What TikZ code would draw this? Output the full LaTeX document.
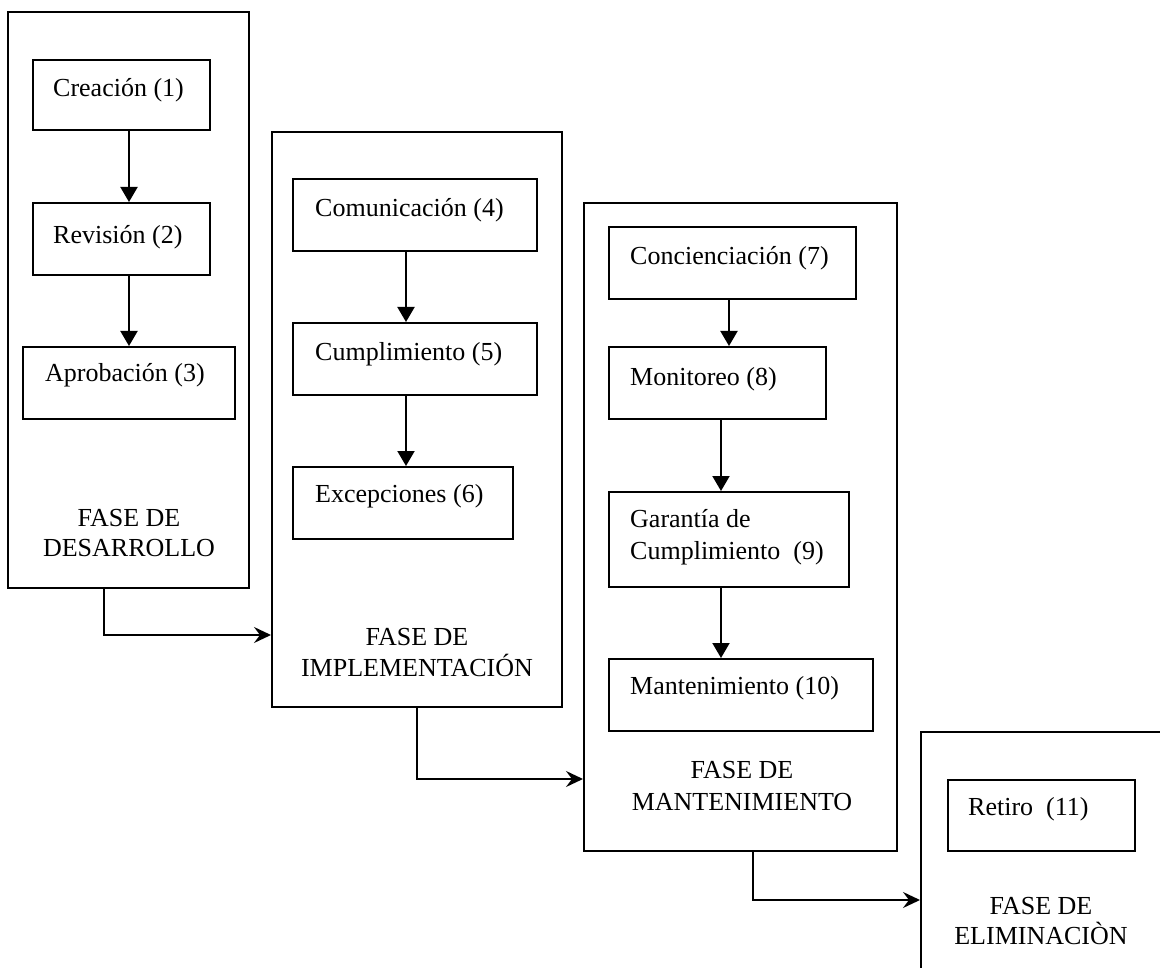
\documentclass[tikz,border=0pt]{standalone}
\usepackage{fontspec}
\setmainfont{Liberation Serif}
\usetikzlibrary{arrows.meta}

\begin{document}
\begin{tikzpicture}[x=1pt,y=-1pt,
  phasebox/.style={draw, line width=2pt, rectangle, inner sep=0pt},
  stepbox/.style={draw, line width=2pt, rectangle, inner sep=0pt},
  txt/.style={inner sep=0pt, font=\fontsize{26}{31}\selectfont},
  phaselbl/.style={txt, anchor=base},
  steptxt/.style={txt, anchor=base west},
  flow/.style={line width=2pt, -{Triangle[length=15pt,width=17pt]}},
  elbow/.style={line width=2pt, -{Stealth[length=17pt,width=16pt,inset=6pt]}}]

\useasboundingbox (0,0) rectangle (1160,968);
\clip (0,0) rectangle (1160,968);

% ---- Fase de desarrollo ----
\node[phasebox, minimum width=241pt, minimum height=576pt] (p1) at (128.5,300) {};
\node[stepbox, minimum width=177pt, minimum height=70pt] (c1) at (121.5,95) {};
\node[stepbox, minimum width=177pt, minimum height=72pt] (c2) at (121.5,239) {};
\node[stepbox, minimum width=212pt, minimum height=72pt] (c3) at (129,383) {};
\node[steptxt] (t1) at (53,97) {Creación (1)};
\node[steptxt] (t2) at (53,244) {Revisión (2)};
\node[steptxt] (t3) at (45,382) {Aprobación (3)};
\node[phaselbl] (l1a) at (129,526) {FASE DE};
\node[phaselbl] (l1b) at (129,556) {DESARROLLO};
\coordinate (a1) at (129,0);
\draw[flow] (c1.south -| a1) -- (c2.north -| a1);
\draw[flow] (c2.south -| a1) -- (c3.north -| a1);

% ---- Fase de implementación ----
\node[phasebox, minimum width=290pt, minimum height=575pt] (p2) at (417,419.5) {};
\node[stepbox, minimum width=244pt, minimum height=72pt] (c4) at (415,215) {};
\node[stepbox, minimum width=244pt, minimum height=72pt] (c5) at (415,359) {};
\node[stepbox, minimum width=220pt, minimum height=72pt] (c6) at (403,503) {};
\node[steptxt] (t4) at (315,217) {Comunicación (4)};
\node[steptxt] (t5) at (315,361) {Cumplimiento (5)};
\node[steptxt] (t6) at (315,502) {Excepciones (6)};
\node[phaselbl] (l2a) at (417,645) {FASE DE};
\node[phaselbl] (l2b) at (417,676) {IMPLEMENTACIÓN};
\coordinate (a2) at (406,0);
\draw[flow] (c4.south -| a2) -- (c5.north -| a2);
\draw[flow] (c5.south -| a2) -- (c6.north -| a2);

% ---- Fase de mantenimiento ----
\node[phasebox, minimum width=313pt, minimum height=648pt] (p3) at (740.5,527) {};
\node[stepbox, minimum width=247pt, minimum height=72pt] (c7) at (732.5,263) {};
\node[stepbox, minimum width=217pt, minimum height=72pt] (c8) at (717.5,383) {};
\node[stepbox, minimum width=240pt, minimum height=95pt] (c9) at (729,539.5) {};
\node[stepbox, minimum width=264pt, minimum height=72pt] (c10) at (741,695) {};
\node[steptxt] (t7) at (630,265) {Concienciación (7)};
\node[steptxt] (t8) at (630,385) {Monitoreo (8)};
\node[steptxt] (t9a) at (630,527) {Garantía de};
\node[steptxt] (t9b) at (630,559) {Cumplimiento\ \ (9)};
\node[steptxt] (t10) at (630,694) {Mantenimiento (10)};
\node[phaselbl] (l3a) at (742,778) {FASE DE};
\node[phaselbl] (l3b) at (742,810) {MANTENIMIENTO};
\coordinate (a3) at (729,0);
\coordinate (a4) at (721,0);
\draw[flow] (c7.south -| a3) -- (c8.north -| a3);
\draw[flow] (c8.south -| a4) -- (c9.north -| a4);
\draw[flow] (c9.south -| a4) -- (c10.north -| a4);

% ---- Fase de eliminación ----
\node[phasebox, minimum width=242pt, minimum height=270pt] (p4) at (1042,867) {};
\node[stepbox, minimum width=187pt, minimum height=71pt] (c11) at (1041.5,815.5) {};
\node[steptxt] (t11) at (968,815) {Retiro\ \ (11)};
\node[phaselbl] (l4a) at (1041,914) {FASE DE};
\node[phaselbl] (l4b) at (1041,944) {ELIMINACIÒN};

% ---- Transiciones entre fases ----
\coordinate (k1) at (104,635);
\coordinate (k2) at (417,779);
\coordinate (k3) at (753,900);
\draw[elbow] (p1.south -| k1) -- (k1) -- (k1 -| p2.west);
\draw[elbow] (p2.south -| k2) -- (k2) -- (k2 -| p3.west);
\draw[elbow] (p3.south -| k3) -- (k3) -- (k3 -| p4.west);
\end{tikzpicture}
\end{document}
